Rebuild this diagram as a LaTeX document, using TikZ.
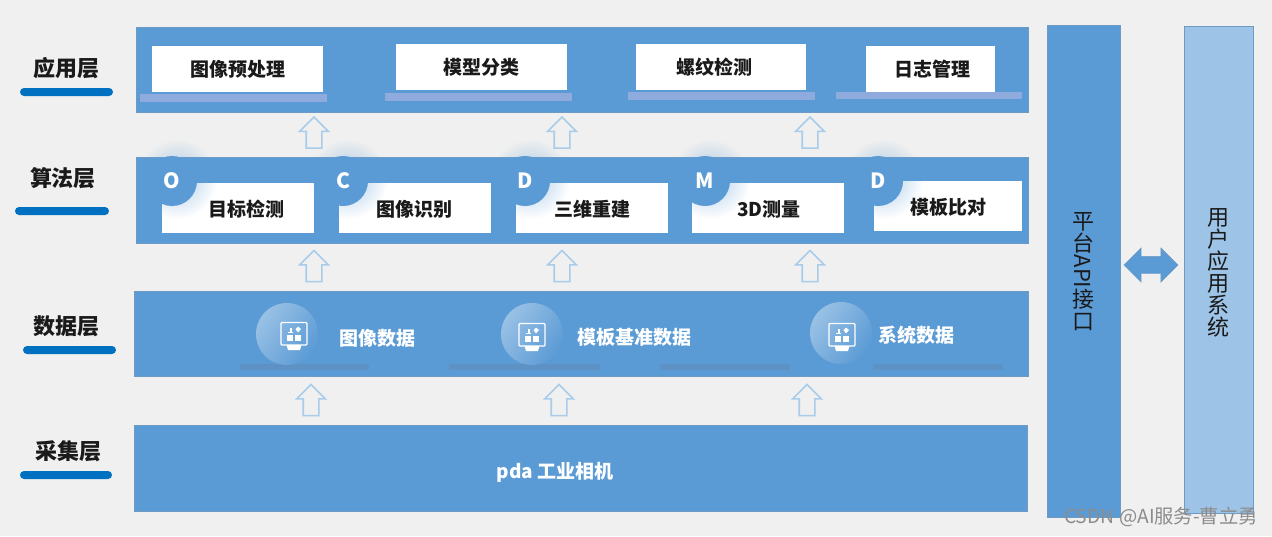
\documentclass[tikz,border=0pt]{standalone}
\usepackage{fontspec}
\setmainfont{Noto Sans CJK SC}
\usetikzlibrary{shapes.arrows,fadings}
\definecolor{pagebg}{HTML}{F0F0F0}
\definecolor{panelblue}{HTML}{5B9BD5}
\definecolor{paneledge}{HTML}{6E9BC4}
\definecolor{lightcol}{HTML}{9DC3E6}
\definecolor{lavbar}{HTML}{8FAADC}
\definecolor{darkbar}{HTML}{5E92C4}
\definecolor{labelbar}{HTML}{0070C0}
\definecolor{arrowedge}{HTML}{A9CCEA}
\definecolor{inktext}{HTML}{1A1A1A}
\tikzfading[name=softglow,inner color=transparent!0,outer color=transparent!100]
\tikzset{
  x=1pt,y=-1pt,
  panel/.style={fill=panelblue,draw=paneledge,line width=0.8pt},
  whitebox/.style={fill=white,draw=none},
  boxtext/.style={font=\fontsize{19}{19}\selectfont\bfseries,text=inktext,inner sep=0pt},
  layertext/.style={font=\fontsize{22}{22}\selectfont\bfseries,text=inktext,inner sep=0pt},
  datatext/.style={font=\fontsize{19}{19}\selectfont\bfseries,text=white,inner sep=0pt},
  lettertext/.style={font=\fontsize{21}{21}\selectfont\bfseries,text=white,inner sep=0pt},
  coltext/.style={font=\fontsize{22}{22}\selectfont,text=inktext,inner sep=0pt,align=center},
  upflow/.style={shape=single arrow,rotate=90,draw=arrowedge,fill=pagebg,line width=1.6pt,
    minimum height=31pt,single arrow head extend=6.5pt,
    single arrow tip angle=90,inner sep=0pt,shape border uses incircle=false},
  twoway/.style={shape=double arrow,fill=panelblue,draw=paneledge,line width=0.4pt,minimum height=54pt,
    double arrow head extend=8.5pt,double arrow tip angle=90,inner sep=0pt,shape border uses incircle=false},
  layerbar/.style={fill=labelbar,rounded corners=4pt,draw=none},
  lavstrip/.style={fill=lavbar,draw=none},
  darkstrip/.style={fill=darkbar,draw=none},
}
\newcommand{\glowbadge}[3]{%
  \fill[panelblue,opacity=0.5,path fading=softglow] (#1+5,#2-2) circle (40);
  \fill[panelblue] (#1,#2) circle (25);
  \node[lettertext] at (#1,#2) {#3};
}
% circle x, circle y, icon x, icon y
\newcommand{\dataicon}[4]{%
  \shade[left color=panelblue!62!white,right color=panelblue,shading angle=55] (#1,#2) circle (31);
  \begin{scope}[shift={(#3,#4)}]
    \draw[white,line width=1.3pt,rounded corners=1pt] (-13,-11.5) rectangle (13,11);
    \fill[white] (-7.5,11) -- (7.5,11) -- (6,16) -- (-6,16) -- cycle;
    \fill[white] (-6.7,1) rectangle (-0.7,6.7);
    \fill[white] (1.3,1) rectangle (7,6.7);
    \fill[white] (-4.5,-6) rectangle (-2.5,-2);
    \fill[white] (-6,-2) rectangle (-1,-1);
    \fill[white] (4,-7.5) -- (7,-5) -- (4,-1.5) -- (1.5,-5) -- cycle;
  \end{scope}
}
\begin{document}
\begin{tikzpicture}
\useasboundingbox (0,0) rectangle (1272,536);
\fill[pagebg] (0,0) rectangle (1272,536);

% left labels
\node[layertext] (lblApp) at (67,68) {应用层};
\fill[layerbar] (20,88) rectangle (113,96);
\node[layertext] (lblAlg) at (63,178) {算法层};
\fill[layerbar] (15,207) rectangle (109,215);
\node[layertext] (lblData) at (66,326) {数据层};
\fill[layerbar] (23,346) rectangle (116,354);
\node[layertext] (lblCap) at (68,451) {采集层};
\fill[layerbar] (20,471) rectangle (112,479);

% panels
\draw[panel] (136,27) rectangle (1028,112);
\draw[panel] (136,157) rectangle (1028,243);
\draw[panel] (134,291) rectangle (1028,376);
\draw[panel] (134,425) rectangle (1027,511);

% application layer
\fill[lavstrip] (140,94) rectangle (327,102);
\fill[lavstrip] (385,92.5) rectangle (572,100.5);
\fill[lavstrip] (628,92) rectangle (815,100);
\fill[lavstrip] (836,92) rectangle (1022,99);
\fill[whitebox] (152,46) rectangle (323,92);
\fill[whitebox] (396,44) rectangle (567,90);
\fill[whitebox] (636,44) rectangle (806,90);
\fill[whitebox] (866,46) rectangle (995,92);
\node[boxtext] (a1) at (238,69) {图像预处理};
\node[boxtext] (a2) at (481,67) {模型分类};
\node[boxtext] (a3) at (714,67) {螺纹检测};
\node[boxtext] (a4) at (932,69) {日志管理};

% algorithm layer
\fill[whitebox] (162,183) rectangle (314,233);
\fill[whitebox] (339,183) rectangle (491,233);
\fill[whitebox] (516,183) rectangle (668,233);
\fill[whitebox] (692,183) rectangle (844,233);
\fill[whitebox] (874,181) rectangle (1022,231);
\glowbadge{172}{181}{O}
\glowbadge{343}{181}{C}
\glowbadge{525}{181}{D}
\glowbadge{705}{181}{M}
\glowbadge{878}{181}{D}
\node[boxtext] (b1) at (246,209) {目标检测};
\node[boxtext] (b2) at (414,209) {图像识别};
\node[boxtext] (b3) at (592,209) {三维重建};
\node[boxtext] (b4) at (769,209) {3D测量};
\node[boxtext] (b5) at (948,207) {模板比对};

% data layer
\fill[darkstrip] (240,364) rectangle (369,370);
\fill[darkstrip] (449,364) rectangle (600,370);
\fill[darkstrip] (660,364) rectangle (790,370);
\fill[darkstrip] (873,364) rectangle (1003,370);
\dataicon{287}{334}{294}{334}
\dataicon{532}{334}{532}{335}
\dataicon{841}{333}{842}{335}
\node[datatext] (d1) at (377,338) {图像数据};
\node[datatext] (d2) at (634,337) {模板基准数据};
\node[datatext] (d3) at (916,335) {系统数据};

% capture layer
\node[datatext] (c1) at (555,472) {pda 工业相机};

% flow arrows
\node[upflow] (u1) at (314,136.5) {\rule{0pt}{14pt}};
\node[upflow] (u2) at (562,136.5) {\rule{0pt}{14pt}};
\node[upflow] (u3) at (810,136.5) {\rule{0pt}{14pt}};
\node[upflow] (m1) at (314,270) {\rule{0pt}{14pt}};
\node[upflow] (m2) at (562,270) {\rule{0pt}{14pt}};
\node[upflow] (m3) at (810,270) {\rule{0pt}{14pt}};
\node[upflow] (l1) at (311,404) {\rule{0pt}{14pt}};
\node[upflow] (l2) at (559,404) {\rule{0pt}{14pt}};
\node[upflow] (l3) at (807,404) {\rule{0pt}{14pt}};

% right columns
\draw[fill=panelblue,draw=paneledge,line width=0.8pt] (1047,25) rectangle (1120,517);
\draw[fill=lightcol,draw=paneledge,line width=0.8pt] (1184,26) rectangle (1253,513);
\node[coltext] (api) at (1083,272) {平\\台\\\rotatebox[origin=c]{-90}{API}\\接\\口};
\node[coltext] (usr) at (1218,273) {用\\户\\应\\用\\系\\统};
\node[twoway] (link) at (1151,265) {\rule{0pt}{17pt}};

% watermark
\node[font=\fontsize{19.3}{19.3}\selectfont,text=gray!90,inner sep=0pt] (wm) at (1161,517) {CSDN @AI服务-曹立勇};
\end{tikzpicture}
\end{document}
